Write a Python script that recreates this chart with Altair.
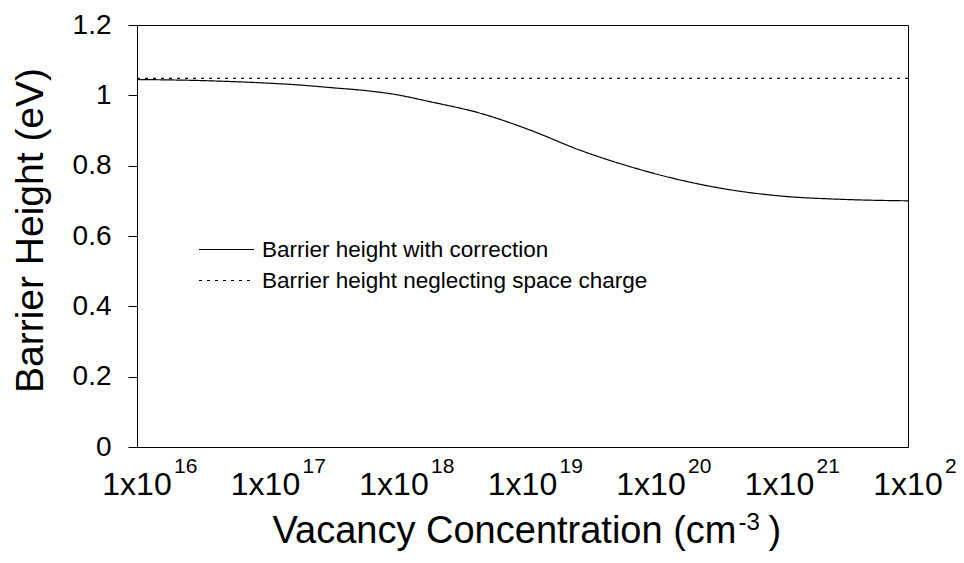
import altair as alt
import pandas as pd

# curve
conc = [1e16, 3.16e16, 5.6e16, 1e17, 1.9e17, 3.2e17, 6.2e17, 1e18, 1.9e18,
        4.7e18, 1.15e19, 2.8e19, 6.9e19, 1.7e20, 4.2e20, 1e21, 3.2e21, 1e22]
barrier = [1.045, 1.042, 1.039, 1.035, 1.029, 1.022, 1.013, 1.003, 0.982,
           0.949, 0.901, 0.844, 0.797, 0.759, 0.731, 0.714, 0.704, 0.700]

flat_conc = [1e16, 1e22]
flat_barrier = [1.048, 1.048]

series = ["Barrier height with correction", "Barrier height neglecting space charge"]

tick_values = [1e16, 1e17, 1e18, 1e19, 1e20, 1e21, 1e22]
tick_base = ["1x10"] * 7
tick_exp = ["16", "17", "18", "19", "20", "21", "22"]

y_ticks = [0, 0.2, 0.4, 0.6, 0.8, 1.0, 1.2]

x_title = ["Vacancy Concentration (cm", "-3", ")"]

FONT = "Liberation Sans"

lines = pd.concat([
    pd.DataFrame({"conc": conc, "barrier": barrier, "series": series[0]}),
    pd.DataFrame({"conc": flat_conc, "barrier": flat_barrier, "series": series[1]}),
])
ticks = pd.DataFrame({"tick": tick_values, "base": tick_base, "exp": tick_exp})

x_scale = alt.Scale(type="log", domain=[1e16, 1e22], nice=False)

curves = (
    alt.Chart(lines)
    .mark_line(color="black", strokeWidth=1.2, interpolate="monotone")
    .encode(
        x=alt.X(
            "conc:Q",
            scale=x_scale,
            axis=alt.Axis(values=tick_values, labels=False, grid=False,
                          tickSize=9, title=None),
        ),
        y=alt.Y(
            "barrier:Q",
            scale=alt.Scale(domain=[0, 1.2], nice=False),
            axis=alt.Axis(
                values=y_ticks,
                format="~g",
                grid=False,
                tickSize=9,
                labelFontSize=28,
                labelFont=FONT,
                labelColor="black",
                labelPadding=17,
                title="Barrier Height (eV)",
                titleFontSize=39,
                titleFont=FONT,
                titleFontWeight="normal",
                titleColor="black",
                titleBaseline="alphabetic",
                titleX=-95,
                titleY=205,
            ),
        ),
        strokeDash=alt.StrokeDash(
            "series:N",
            scale=alt.Scale(domain=series, range=[[1, 0], [3, 5]]),
            legend=alt.Legend(
                title=None,
                orient="none",
                legendX=61,
                legendY=196,
                symbolType="stroke",
                symbolSize=3025,
                symbolStrokeColor="black",
                symbolStrokeWidth=1.2,
                labelFont=FONT,
                labelFontSize=22.5,
                labelColor="black",
                labelLimit=0,
                labelOffset=7,
                rowPadding=-9,
                gridAlign="none",
            ),
        ),
    )
)

tick_base_text = (
    alt.Chart(ticks)
    .mark_text(font=FONT, fontSize=32, color="black", align="center",
               baseline="alphabetic", dy=48)
    .encode(x=alt.X("tick:Q", scale=x_scale, axis=None), y=alt.datum(0), text="base:N")
)

tick_exp_text = (
    alt.Chart(ticks)
    .mark_text(font=FONT, fontSize=21, color="black", align="left",
               baseline="alphabetic", dx=37, dy=26)
    .encode(x=alt.X("tick:Q", scale=x_scale, axis=None), y=alt.datum(0), text="exp:N")
)

# axis title with superscript, anchored under the middle of the axis
title_main = (
    alt.Chart().mark_text(font=FONT, fontSize=38, color="black", align="right",
                          baseline="alphabetic", dx=214, dy=96)
    .encode(x=alt.datum(1e19), y=alt.datum(0), text=alt.value(x_title[0]))
)
title_sup = (
    alt.Chart().mark_text(font=FONT, fontSize=24, color="black", align="left",
                          baseline="alphabetic", dx=216, dy=83)
    .encode(x=alt.datum(1e19), y=alt.datum(0), text=alt.value(x_title[1]))
)
title_end = (
    alt.Chart().mark_text(font=FONT, fontSize=38, color="black", align="left",
                          baseline="alphabetic", dx=246, dy=96)
    .encode(x=alt.datum(1e19), y=alt.datum(0), text=alt.value(x_title[2]))
)

chart = (
    alt.layer(curves, tick_base_text, tick_exp_text, title_main, title_sup, title_end)
    .properties(
        width=771,
        height=422,
        autosize=alt.AutoSizeParams(type="none"),
        padding={"left": 129, "top": 17, "right": 48, "bottom": 108},
    )
    .configure_view(stroke="black", strokeWidth=1)
    .configure_axis(domainColor="black", tickColor="black", domainWidth=1, tickWidth=1)
)

chart.save("out.html", embed_options={"renderer": "svg", "actions": False})
